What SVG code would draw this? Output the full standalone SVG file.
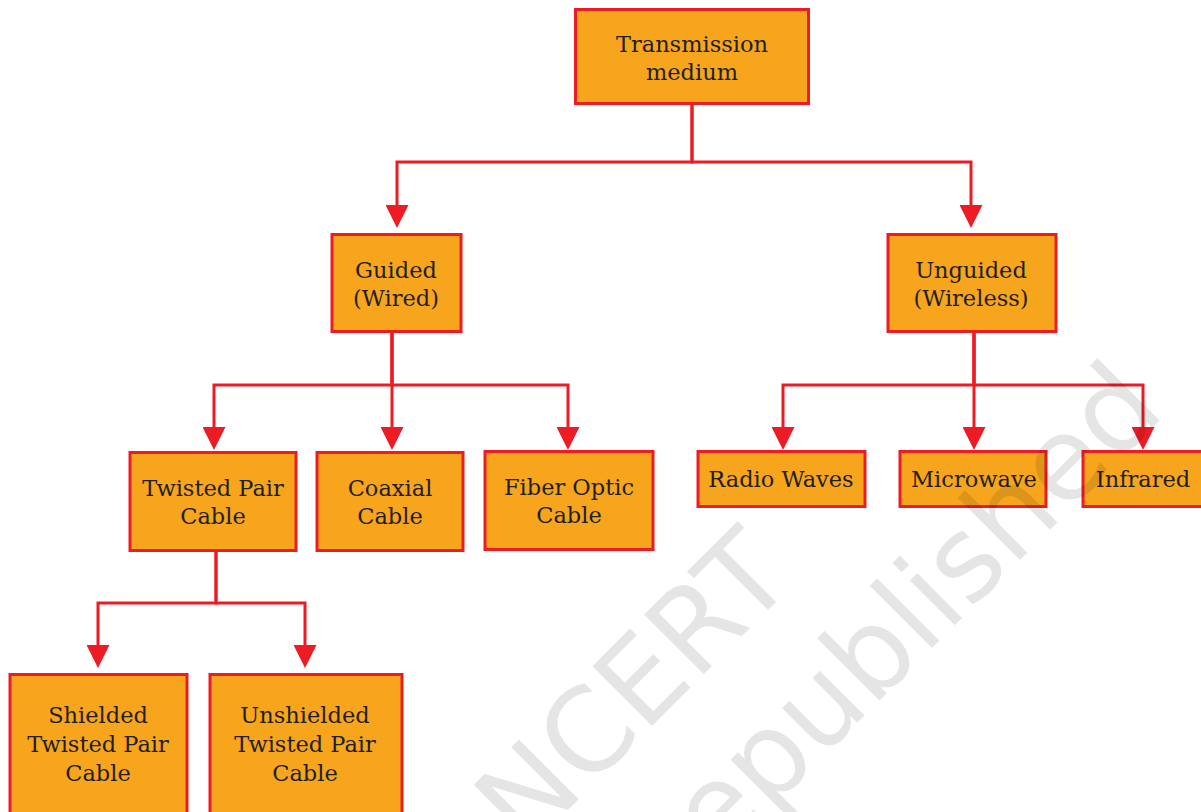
<svg xmlns="http://www.w3.org/2000/svg" width="1201" height="812" viewBox="0 0 1201 812">
  <style>
    .box { fill: #f7a51d; stroke: #ed1c24; stroke-width: 3; }
    .lbl { font-family: "DejaVu Serif", "Liberation Serif", serif; font-size: 22.5px; fill: #231f20; text-anchor: middle; }
    .wire { fill: none; stroke: #ed1c24; stroke-width: 3; }
    .wm { font-family: "DejaVu Sans", "Liberation Sans", sans-serif; font-size: 116px; fill: #000; fill-opacity: 0.1; text-anchor: end; }
  </style>
  <defs>
    <marker id="arrow" viewBox="0 0 23 23" markerWidth="23" markerHeight="23" refX="11" refY="11.5" orient="auto" markerUnits="userSpaceOnUse">
      <path d="M0,0 L23,11.5 L0,23 z" fill="#ed1c24"/>
    </marker>
  </defs>
  <rect width="1201" height="812" fill="#ffffff"/>

  <!-- connectors -->
  <g id="connectors" class="wire" marker-end="url(#arrow)">
    <path d="M692,104 V162 H397 V216"/>
    <path d="M692,104 V162 H971 V216"/>
    <path d="M392,332 V385 H214 V438"/>
    <path d="M392,332 V438"/>
    <path d="M392,332 V385 H568 V438"/>
    <path d="M974,332 V385 H783 V438"/>
    <path d="M974,332 V438"/>
    <path d="M974,332 V385 H1143 V438"/>
    <path d="M216,551 V603 H98 V656"/>
    <path d="M216,551 V603 H305 V656"/>
  </g>

  <!-- nodes -->
  <g id="transmission-medium">
    <rect class="box" x="575.5" y="9.5" width="233" height="94"/>
    <text class="lbl" x="692" y="52">Transmission</text>
    <text class="lbl" x="692" y="80">medium</text>
  </g>
  <g id="guided">
    <rect class="box" x="332" y="234.5" width="129" height="97"/>
    <text class="lbl" x="396" y="278">Guided</text>
    <text class="lbl" x="396" y="306">(Wired)</text>
  </g>
  <g id="unguided">
    <rect class="box" x="888" y="234.5" width="168" height="97"/>
    <text class="lbl" x="971" y="278">Unguided</text>
    <text class="lbl" x="971" y="306">(Wireless)</text>
  </g>
  <g id="twisted-pair">
    <rect class="box" x="130" y="452.5" width="166" height="98"/>
    <text class="lbl" x="213" y="496">Twisted Pair</text>
    <text class="lbl" x="213" y="524">Cable</text>
  </g>
  <g id="coaxial">
    <rect class="box" x="317" y="452.5" width="146" height="98"/>
    <text class="lbl" x="390" y="496">Coaxial</text>
    <text class="lbl" x="390" y="524">Cable</text>
  </g>
  <g id="fiber-optic">
    <rect class="box" x="485" y="451.5" width="168" height="98"/>
    <text class="lbl" x="569" y="495">Fiber Optic</text>
    <text class="lbl" x="569" y="523">Cable</text>
  </g>
  <g id="radio-waves">
    <rect class="box" x="698" y="451.5" width="167" height="55"/>
    <text class="lbl" x="781" y="487">Radio Waves</text>
  </g>
  <g id="microwave">
    <rect class="box" x="900" y="451.5" width="146" height="55"/>
    <text class="lbl" x="974" y="487">Microwave</text>
  </g>
  <g id="infrared">
    <rect class="box" x="1083" y="451.5" width="130" height="55"/>
    <text class="lbl" x="1143" y="487">Infrared</text>
  </g>
  <g id="shielded">
    <rect class="box" x="10" y="674.5" width="177" height="150"/>
    <text class="lbl" x="98" y="723">Shielded</text>
    <text class="lbl" x="98" y="752">Twisted Pair</text>
    <text class="lbl" x="98" y="781">Cable</text>
  </g>
  <g id="unshielded">
    <rect class="box" x="210" y="674.5" width="192" height="150"/>
    <text class="lbl" x="305" y="723">Unshielded</text>
    <text class="lbl" x="305" y="752">Twisted Pair</text>
    <text class="lbl" x="305" y="781">Cable</text>
  </g>

  <!-- diagonal watermark -->
  <g id="watermark">
    <text class="wm" transform="translate(797,581) rotate(-45)">NCERT</text>
    <text class="wm" transform="translate(1167,413) rotate(-45)">republished</text>
  </g>
</svg>
